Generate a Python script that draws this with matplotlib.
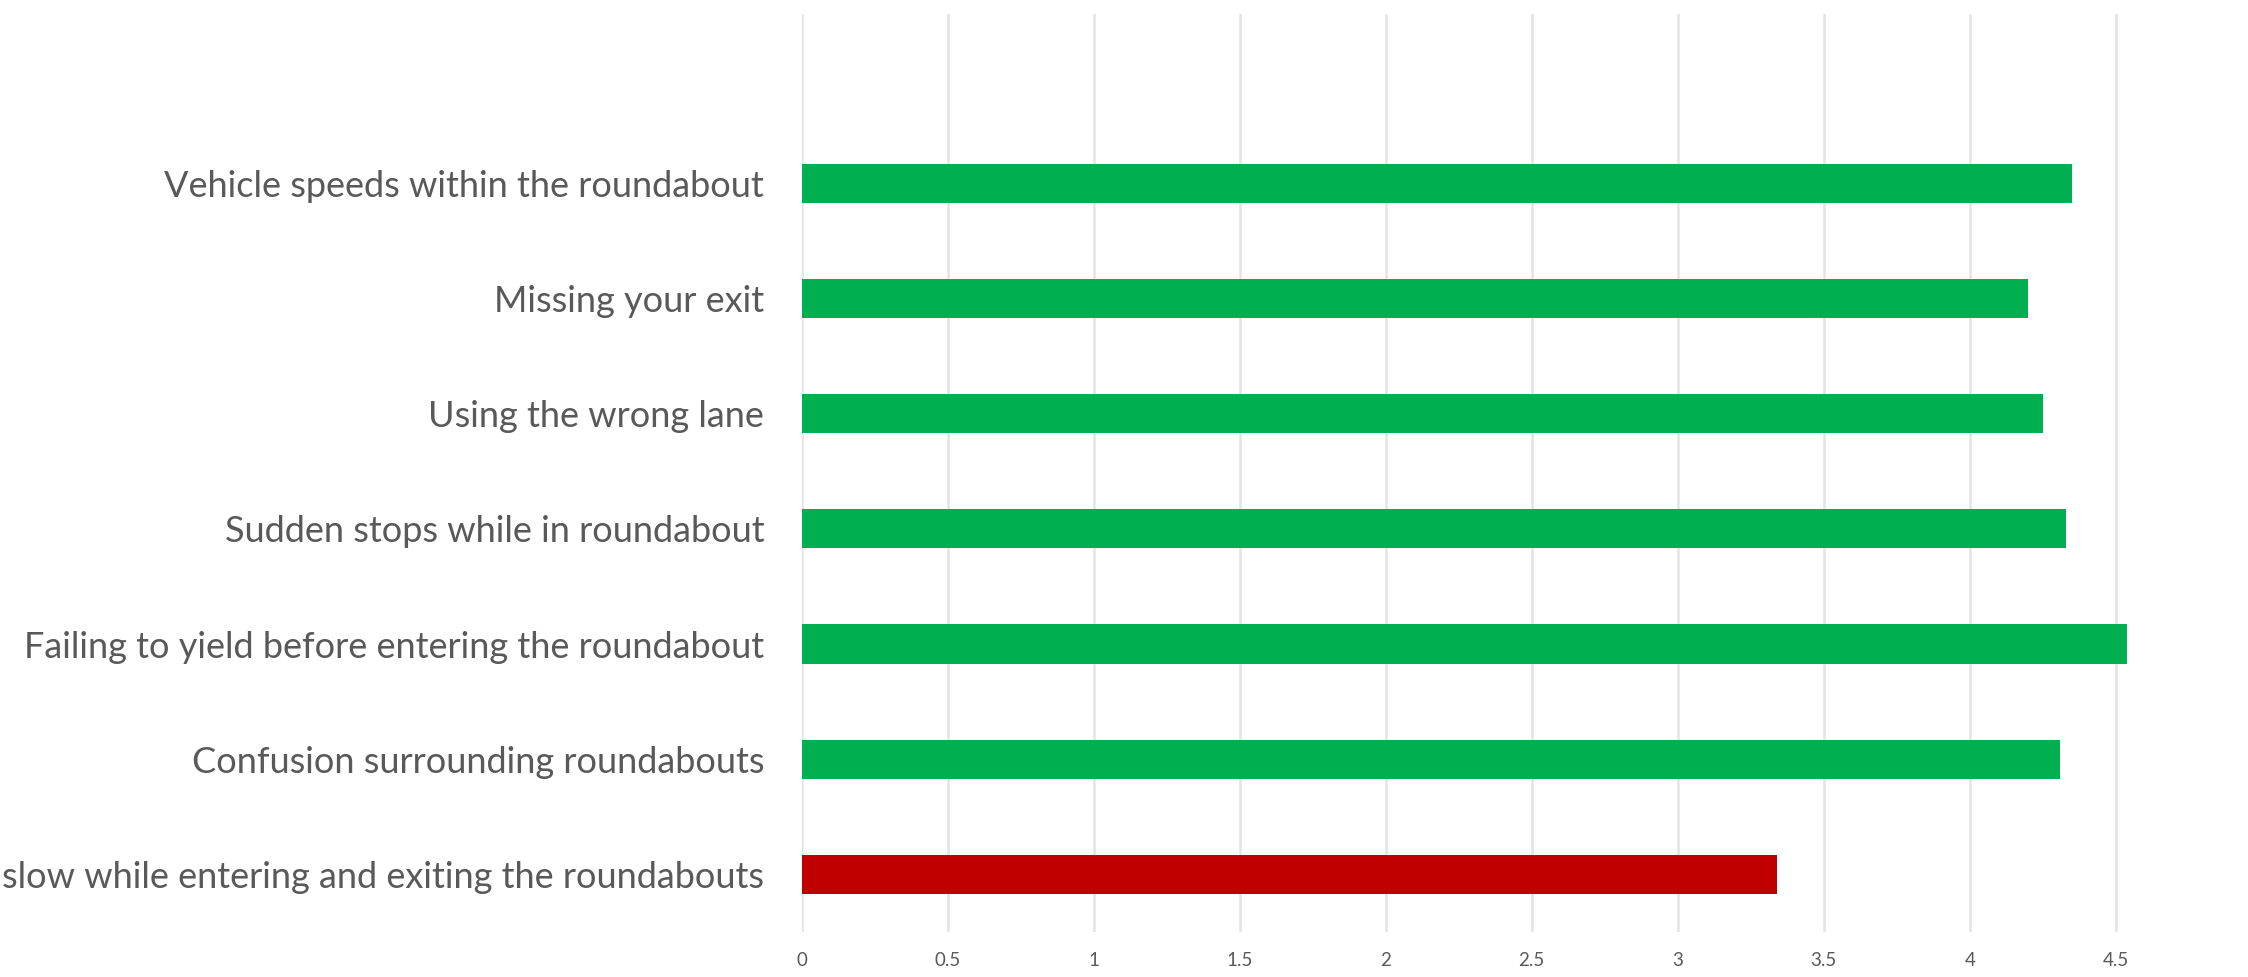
import matplotlib.pyplot as plt

# categories bottom to top
labels = ['slow while entering and exiting the roundabouts',
          'Confusion surrounding roundabouts',
          'Failing to yield before entering the roundabout',
          'Sudden stops while in roundabout',
          'Using the wrong lane',
          'Missing your exit',
          'Vehicle speeds within the roundabout']
values = [3.34, 4.31, 4.54, 4.33, 4.25, 4.2, 4.35]
colors = ['#C00000', '#00B050', '#00B050', '#00B050', '#00B050', '#00B050', '#00B050']
xticks = [0, 0.5, 1, 1.5, 2, 2.5, 3, 3.5, 4, 4.5]

plt.rcParams['font.family'] = ['Lato', 'DejaVu Sans']

fig = plt.figure(figsize=(22.48, 9.77), dpi=100)
ax = fig.add_axes([0.3566, 0.046, 1 - 0.3566, 0.9397])

ax.barh(range(len(labels)), values, height=0.34, color=colors, zorder=3)

ax.set_xlim(0, 4.953)
ax.set_ylim(-0.5, 7.47)
ax.set_xticks(xticks)
ax.set_xticklabels([f'{t:g}' for t in xticks], fontsize=13.5, color='#595959')
ax.set_yticks(range(len(labels)))
ax.set_yticklabels(labels, fontsize=26, color='#595959')
ax.tick_params(axis='y', length=0, pad=27)
ax.tick_params(axis='x', length=0, pad=14)
ax.grid(axis='x', color='#e4e4e4', linewidth=1.8, zorder=0)
for s in ax.spines.values():
    s.set_visible(False)

fig.savefig('out.png', dpi=100)
